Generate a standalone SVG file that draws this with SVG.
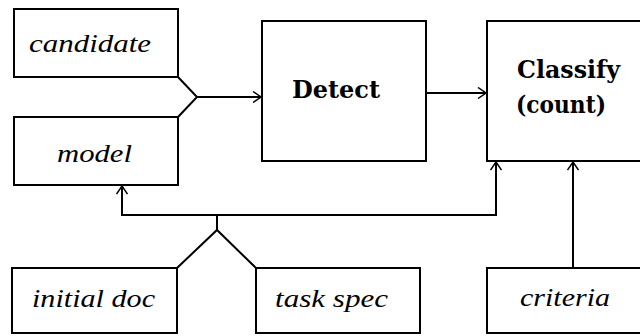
<svg xmlns="http://www.w3.org/2000/svg" width="640" height="336" viewBox="0 0 640 336">
<style>
.box{fill:#fff;stroke:#000;stroke-width:2}
.ln{fill:none;stroke:#000;stroke-width:2}
.it{font-family:"Liberation Serif","Times New Roman",serif;font-style:italic;font-size:25px;fill:#000}
.bd{font-family:"DejaVu Serif","Liberation Serif",serif;font-weight:bold;font-size:24px;fill:#000}
</style>
<defs>
<marker id="ah" viewBox="0 0 10 12" refX="9" refY="6" markerWidth="10" markerHeight="12" markerUnits="userSpaceOnUse" orient="auto">
<path d="M1,0.5 L9,6 L1,11.5" fill="none" stroke="#000" stroke-width="1.5"/>
</marker>
</defs>
<rect width="640" height="336" fill="#fff"/>
<g id="connectors">
<path class="ln" d="M178,77 L197,97 L178,117"/>
<path class="ln" d="M197,97 L261,97" marker-end="url(#ah)"/>
<path class="ln" d="M426,93 L486,93" marker-end="url(#ah)"/>
<path class="ln" d="M177,268 L217,230 L256,268"/>
<path class="ln" d="M217,230 L217,215"/>
<path class="ln" d="M217,215 L122,215 L122,186" marker-end="url(#ah)"/>
<path class="ln" d="M217,215 L496,215 L496,162" marker-end="url(#ah)"/>
<path class="ln" d="M573,268 L573,162" marker-end="url(#ah)"/>
</g>
<g id="candidate">
<rect class="box" x="14" y="9" width="164" height="68"/>
<text class="it" x="29" y="52" textLength="122" lengthAdjust="spacingAndGlyphs">candidate</text>
</g>
<g id="model">
<rect class="box" x="14" y="117" width="164" height="68"/>
<text class="it" x="57" y="162" textLength="75" lengthAdjust="spacingAndGlyphs">model</text>
</g>
<g id="detect">
<rect class="box" x="262" y="21" width="164" height="140"/>
<text class="bd" x="292" y="98" textLength="88" lengthAdjust="spacingAndGlyphs">Detect</text>
</g>
<g id="classify">
<rect class="box" x="487" y="21" width="160" height="140"/>
<text class="bd" x="517" y="78" textLength="103" lengthAdjust="spacingAndGlyphs">Classify</text>
<text class="bd" x="516" y="113" textLength="90" lengthAdjust="spacingAndGlyphs">(count)</text>
</g>
<g id="initial-doc">
<rect class="box" x="12" y="268" width="165" height="65"/>
<text class="it" x="32" y="307" textLength="123" lengthAdjust="spacingAndGlyphs">initial doc</text>
</g>
<g id="task-spec">
<rect class="box" x="256" y="268" width="164" height="65"/>
<text class="it" x="275" y="307" textLength="113" lengthAdjust="spacingAndGlyphs">task spec</text>
</g>
<g id="criteria">
<rect class="box" x="487" y="268" width="160" height="65"/>
<text class="it" x="520" y="306" textLength="90" lengthAdjust="spacingAndGlyphs">criteria</text>
</g>
</svg>
